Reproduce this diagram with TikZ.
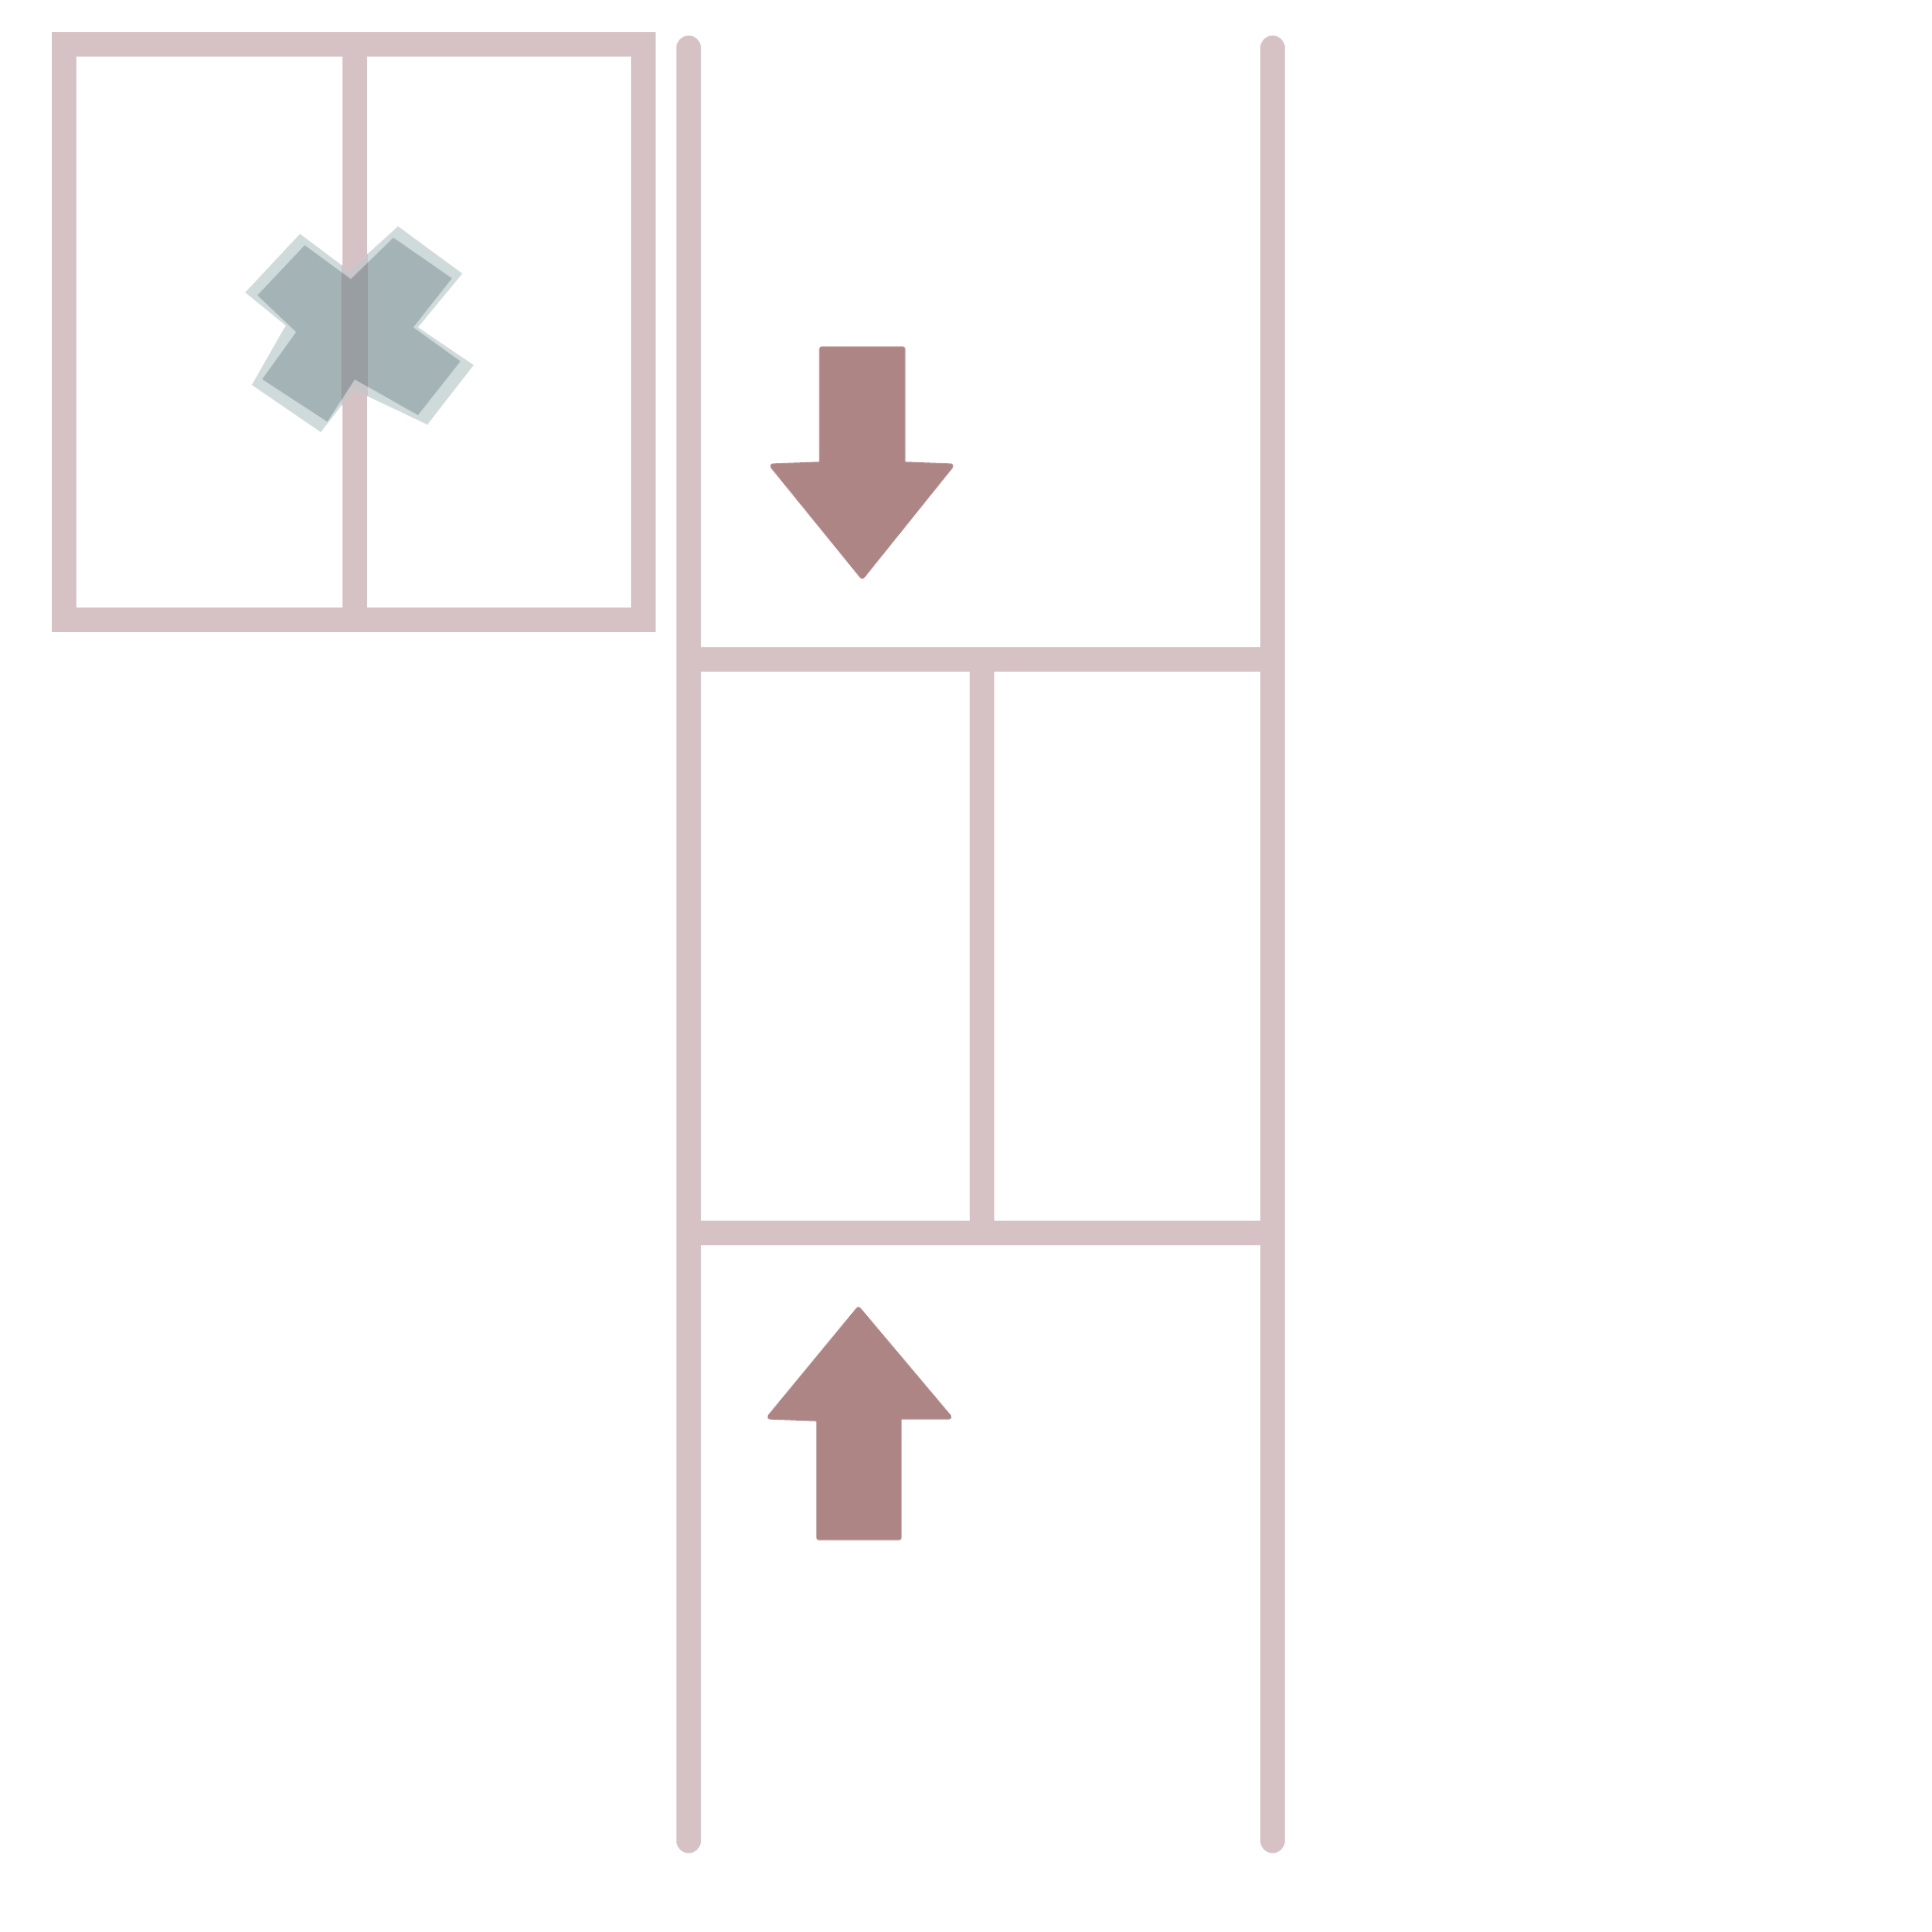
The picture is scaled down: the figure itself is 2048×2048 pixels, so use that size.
\documentclass[tikz,border=0pt]{standalone}
\definecolor{framecol}{HTML}{D6C2C4}
\definecolor{arrowcol}{HTML}{AD8584}
\definecolor{xdark}{HTML}{A3B3B6}
\definecolor{xlight}{HTML}{CFDADB}
\definecolor{xover}{HTML}{989EA1}
\definecolor{xoverlight}{HTML}{C9C6C9}
\tikzset{
  frame/.style={draw=framecol, line width=7.6pt, line cap=rect},
  rail/.style={draw=framecol, line width=7.6pt, line cap=round},
  bigarrow/.style={fill=arrowcol, draw=arrowcol, line width=1.5pt, line join=round},
}
\begin{document}
\begin{tikzpicture}[x=0.01cm, y=-0.01cm]
\useasboundingbox (0,0) rectangle (2048,2048);
\fill[white] (0,0) rectangle (2048,2048);
% top-left closed box
\draw[frame] (68,47) rectangle (682,657);
\draw[frame] (376,47) -- (376,657);
% X mark
\def\xlightpath{(318,248) -- (370,287) -- (422,240) -- (490,290) -- (443,347) -- (502,387) -- (453,450) -- (375,413) -- (340,458) -- (267,408) -- (303,345) -- (260,310) -- cycle}
\def\xdarkpath{(323,260) -- (372,296) -- (417,252) -- (479,295) -- (438,347) -- (488,383) -- (443,440) -- (376,402) -- (347,447) -- (278,402) -- (314,352) -- (273,313) -- cycle}
\fill[xlight, line join=round] \xlightpath;
\begin{scope}
\clip \xlightpath;
\fill[xoverlight] (362,0) rectangle (390,700);
\end{scope}
\fill[xdark, line join=round] \xdarkpath;
\begin{scope}
\clip \xdarkpath;
\fill[xover] (362,0) rectangle (390,700);
\end{scope}
% rails
\draw[rail] (730,51) -- (730,1951);
\draw[rail] (1349,51) -- (1349,1951);
% cross bands
\draw[frame] (730,699) -- (1349,699);
\draw[frame] (730,1307) -- (1349,1307);
\draw[frame] (1041,699) -- (1041,1307);
% down arrow
\fill[bigarrow] (871,370) -- (957,370) -- (957,492) -- (1008,494) -- (914,611) -- (819,494) -- (871,492) -- cycle;
% up arrow
\fill[bigarrow] (868,1630) -- (953,1630) -- (953,1502) -- (1006,1502) -- (910,1388) -- (816,1502) -- (868,1504) -- cycle;
\end{tikzpicture}
\end{document}
